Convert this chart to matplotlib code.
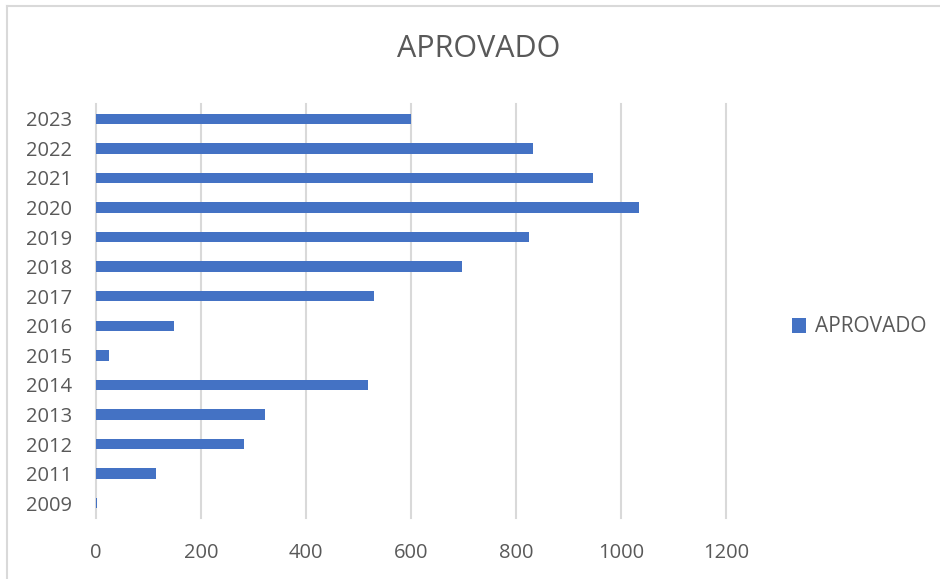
import matplotlib
matplotlib.use("Agg")
import matplotlib.pyplot as plt
from matplotlib.lines import Line2D
from matplotlib.patches import Patch

years = ["2009", "2011", "2012", "2013", "2014", "2015", "2016",
         "2017", "2018", "2019", "2020", "2021", "2022", "2023"]
aprovado = [2, 115, 281, 322, 518, 25, 149, 530, 698, 824, 1034, 947, 832, 600]
x_ticks = [0, 200, 400, 600, 800, 1000, 1200]

W, H = 940, 579
plt.rcParams["font.family"] = ["Open Sans", "DejaVu Sans"]
text_color = "#595959"
bar_color = "#4472C4"
grid_color = "#d9d9d9"

fig = plt.figure(figsize=(W / 100, H / 100), dpi=100)
fig.patch.set_facecolor("white")

# plot area in pixel terms
left, right, top, bottom = 96, 726, 104, 518
ax = fig.add_axes([left / W, 1 - bottom / H, (right - left) / W, (bottom - top) / H])

pos = list(range(len(years)))
ax.barh(pos, aprovado, height=0.35, color=bar_color, zorder=3)

ax.set_xlim(0, 1200)
ax.set_ylim(-0.5, len(years) - 0.5)
ax.set_xticks(x_ticks)
ax.set_xticklabels([str(t) for t in x_ticks])
ax.set_yticks(pos)
ax.set_yticklabels(years)

ax.grid(axis="x", color=grid_color, linewidth=1.5, zorder=0)
for gl in ax.get_xgridlines():
    gl.set_clip_on(False)
ax.set_axisbelow(True)
for s in ax.spines.values():
    s.set_visible(False)
ax.tick_params(axis="both", length=0, colors=text_color, labelsize=14.5)
ax.tick_params(axis="x", pad=18)
ax.tick_params(axis="y", pad=17)

fig.text(479 / W, 1 - 49 / H, "APROVADO", ha="center", va="center",
         fontsize=22, color=text_color)

handle = Patch(facecolor=bar_color, edgecolor="none")
fig.legend([handle], ["APROVADO"], loc="center left",
           bbox_to_anchor=(773 / W, 1 - 327 / H), frameon=False,
           fontsize=15, labelcolor=text_color, handlelength=0.7,
           handleheight=0.7, handletextpad=0.4)

# chart frame edges (top and left)
fig.add_artist(Line2D([7.5 / W, 1], [1 - 5.5 / H, 1 - 5.5 / H],
                      transform=fig.transFigure, color=grid_color, linewidth=1.5))
fig.add_artist(Line2D([7.5 / W, 7.5 / W], [0, 1 - 5.5 / H],
                      transform=fig.transFigure, color=grid_color, linewidth=1.5))

fig.savefig("out.png", dpi=100, facecolor="white")
